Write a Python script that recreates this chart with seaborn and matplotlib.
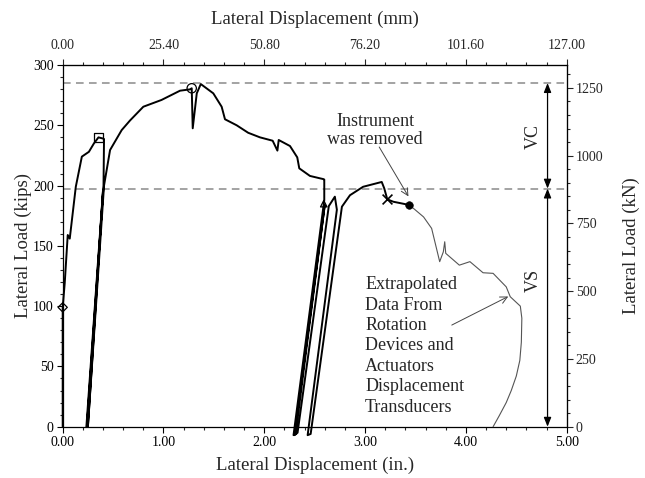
import numpy as np
import pandas as pd
import matplotlib
matplotlib.use("Agg")
import matplotlib.pyplot as plt
from matplotlib.ticker import MultipleLocator, FormatStrFormatter, FixedLocator
import seaborn as sns

# ---------------- data (inches, kips) ----------------
test_x = [0.00, 0.00, 0.02, 0.05, 0.07, 0.13, 0.19, 0.26, 0.31, 0.355, 0.40, 0.41,
          0.405, 0.24, 0.25, 0.40, 0.235, 0.25, 0.41,
          0.47, 0.585, 0.668, 0.80, 0.98, 1.164, 1.263, 1.28, 1.29, 1.33, 1.37,
          1.494, 1.577, 1.61, 1.726, 1.84, 1.957, 2.083, 2.13, 2.143, 2.255,
          2.327, 2.347, 2.453, 2.553, 2.585, 2.595, 2.595,
          2.29, 2.31, 2.60, 2.30, 2.33, 2.64, 2.70, 2.72, 2.43, 2.46, 2.77,
          2.85, 2.98, 3.165, 3.19, 3.22, 3.28, 3.44]
test_y = [0, 99, 119, 159, 156, 199, 224, 228, 235, 240, 239, 238.6,
          200, 0, 0, 196, 0, 0, 200,
          229.5, 246, 254, 265.4, 271, 278.7, 279.8, 280.7, 247.5, 276.5, 284.2,
          276.5, 265.4, 255, 250, 243.8, 240, 237.2, 229, 237.8, 232.8,
          223.4, 214.3, 208, 206, 205.4, 205, 188,
          -7, -6, 184, -7, -5, 183, 190.8, 180, -7, -6, 182.5,
          192, 199, 203, 197.7, 188.6, 186.6, 183.9]

extrap_x = [3.44, 3.58, 3.66, 3.74, 3.776, 3.79, 3.80, 3.935, 4.04, 4.17, 4.27,
            4.40, 4.44, 4.54, 4.555, 4.55, 4.535, 4.50, 4.45, 4.40, 4.33, 4.27]
extrap_y = [183.9, 174, 164.5, 136.9, 145, 153.4, 143.8, 134, 136.9, 127.7, 127.2,
            116, 107.8, 100, 90, 70, 55, 42, 30, 20, 9, 0]

# event markers
diamond_pt = (0.0, 99)
square_pt = (0.355, 240)
circle_pt = (1.28, 280.7)
triangle_pt = (2.59, 185)
cross_pt = (3.22, 188.6)
dot_pt = (3.44, 183.9)

vc_top = 285
vs_top = 197.5

x_ticks_in = [0, 1, 2, 3, 4, 5]
mm_ticks = [0.0, 25.4, 50.8, 76.2, 101.6, 127.0]
kn_ticks = [0, 250, 500, 750, 1000, 1250]
KIP_TO_KN = 4.448222

# ---------------- style ----------------
sns.set_style("ticks")
plt.rcParams['font.family'] = ['Liberation Serif', 'DejaVu Serif']
plt.rcParams['xtick.direction'] = 'out'
plt.rcParams['ytick.direction'] = 'out'

fig = plt.figure(figsize=(6.45, 4.78), dpi=100)
ax = fig.add_axes([0.0972, 0.1073, 0.8786 - 0.0972, 0.864 - 0.1073])

# reference lines
for yv in (vc_top, vs_top):
    ax.axhline(yv, color='#8a8a8a', lw=1.1, ls=(0, (5, 3.5)), zorder=1)

# curves
sns.lineplot(x=test_x, y=test_y, sort=False, estimator=None, color='black',
             lw=1.4, ax=ax, clip_on=False, zorder=3)
sns.lineplot(x=extrap_x, y=extrap_y, sort=False, estimator=None, color='#555555',
             lw=0.8, ax=ax, clip_on=False, zorder=3)

# markers
def mk(pt, marker, s, filled=False, lw=0.9):
    if filled:
        sns.scatterplot(x=[pt[0]], y=[pt[1]], marker=marker, s=s, color='black',
                        edgecolor='black', ax=ax, zorder=5, clip_on=False)
    elif marker == 'x':
        sns.scatterplot(x=[pt[0]], y=[pt[1]], marker=marker, s=s, color='black',
                        linewidth=1.2, ax=ax, zorder=5, clip_on=False)
    else:
        sns.scatterplot(x=[pt[0]], y=[pt[1]], marker=marker, s=s, facecolor='none',
                        edgecolor='black', linewidth=lw, ax=ax, zorder=5, clip_on=False)

mk(diamond_pt, 'D', 22)
mk(square_pt, 's', 40)
mk(circle_pt, 'o', 45)
mk(triangle_pt, '^', 22)
mk(cross_pt, 'x', 50)
mk(dot_pt, 'o', 30, filled=True)

# VC / VS arrows
arrow_x = 4.81
ax.annotate('', xy=(arrow_x, vc_top), xytext=(arrow_x, vs_top),
            arrowprops=dict(arrowstyle='<|-|>,head_length=0.55,head_width=0.22',
                            color='black', lw=0.9, shrinkA=0, shrinkB=0))
ax.annotate('', xy=(arrow_x, vs_top), xytext=(arrow_x, 0),
            arrowprops=dict(arrowstyle='<|-|>,head_length=0.55,head_width=0.22',
                            color='black', lw=0.9, shrinkA=0, shrinkB=0))
ax.text(4.67, 240.5, 'VC', rotation=90, ha='center', va='center', fontsize=13)
ax.text(4.67, 121.7, 'VS', rotation=90, ha='center', va='center', fontsize=13)

# annotations
ax.text(3.10, 245.5, 'Instrument\nwas removed', ha='center', va='center',
        fontsize=13, linespacing=1.12)
ax.annotate('', xy=(3.43, 191), xytext=(3.14, 232),
            arrowprops=dict(arrowstyle='->,head_length=0.5,head_width=0.25',
                            color='#444444', lw=0.7, shrinkA=0, shrinkB=0))
ax.text(3.0, 67.0, 'Extrapolated\nData From\nRotation\nDevices and\nActuators\n'
        'Displacement\nTransducers', ha='left', va='center', fontsize=13,
        linespacing=1.26)
ax.annotate('', xy=(4.42, 108), xytext=(3.86, 84.3),
            arrowprops=dict(arrowstyle='->,head_length=0.5,head_width=0.25',
                            color='#444444', lw=0.7, shrinkA=0, shrinkB=0))

# axes
ax.set_xlim(0, 5)
ax.set_ylim(0, 300)
ax.xaxis.set_major_locator(FixedLocator(x_ticks_in))
ax.xaxis.set_major_formatter(FormatStrFormatter('%.2f'))
ax.xaxis.set_minor_locator(MultipleLocator(0.2))
ax.yaxis.set_major_locator(MultipleLocator(50))
ax.yaxis.set_minor_locator(MultipleLocator(10))
ax.set_xlabel('Lateral Displacement (in.)', fontsize=13.5, labelpad=6)
ax.set_ylabel('Lateral Load (kips)', fontsize=13.5, labelpad=1)
ax.tick_params(which='major', length=4.5, width=0.8, labelsize=10, pad=2,
               colors='black')
ax.tick_params(which='minor', length=2.2, width=0.8)
ax.tick_params(top=False, right=False)
for sp in ax.spines.values():
    sp.set_visible(True)
    sp.set_color('black')
    sp.set_linewidth(0.9)

secx = ax.secondary_xaxis('top', functions=(lambda v: v * 25.4, lambda v: v / 25.4))
secx.xaxis.set_major_locator(FixedLocator(mm_ticks))
secx.xaxis.set_major_formatter(FormatStrFormatter('%.2f'))
secx.xaxis.set_minor_locator(MultipleLocator(5.08))
secx.tick_params(which='major', length=4.5, width=0.8, labelsize=10, pad=5)
secx.tick_params(which='minor', length=2.2, width=0.8)
secx.set_xlabel('Lateral Displacement (mm)', fontsize=13.5, labelpad=11)

secy = ax.secondary_yaxis('right', functions=(lambda v: v * KIP_TO_KN,
                                              lambda v: v / KIP_TO_KN))
secy.yaxis.set_major_locator(FixedLocator(kn_ticks))
secy.yaxis.set_minor_locator(MultipleLocator(50))
secy.tick_params(which='major', length=4.5, width=0.8, labelsize=10, pad=2)
secy.tick_params(which='minor', length=2.2, width=0.8)
secy.set_ylabel('Lateral Load (kN)', fontsize=13.5, labelpad=14)

fig.savefig('out.png', dpi=100)
